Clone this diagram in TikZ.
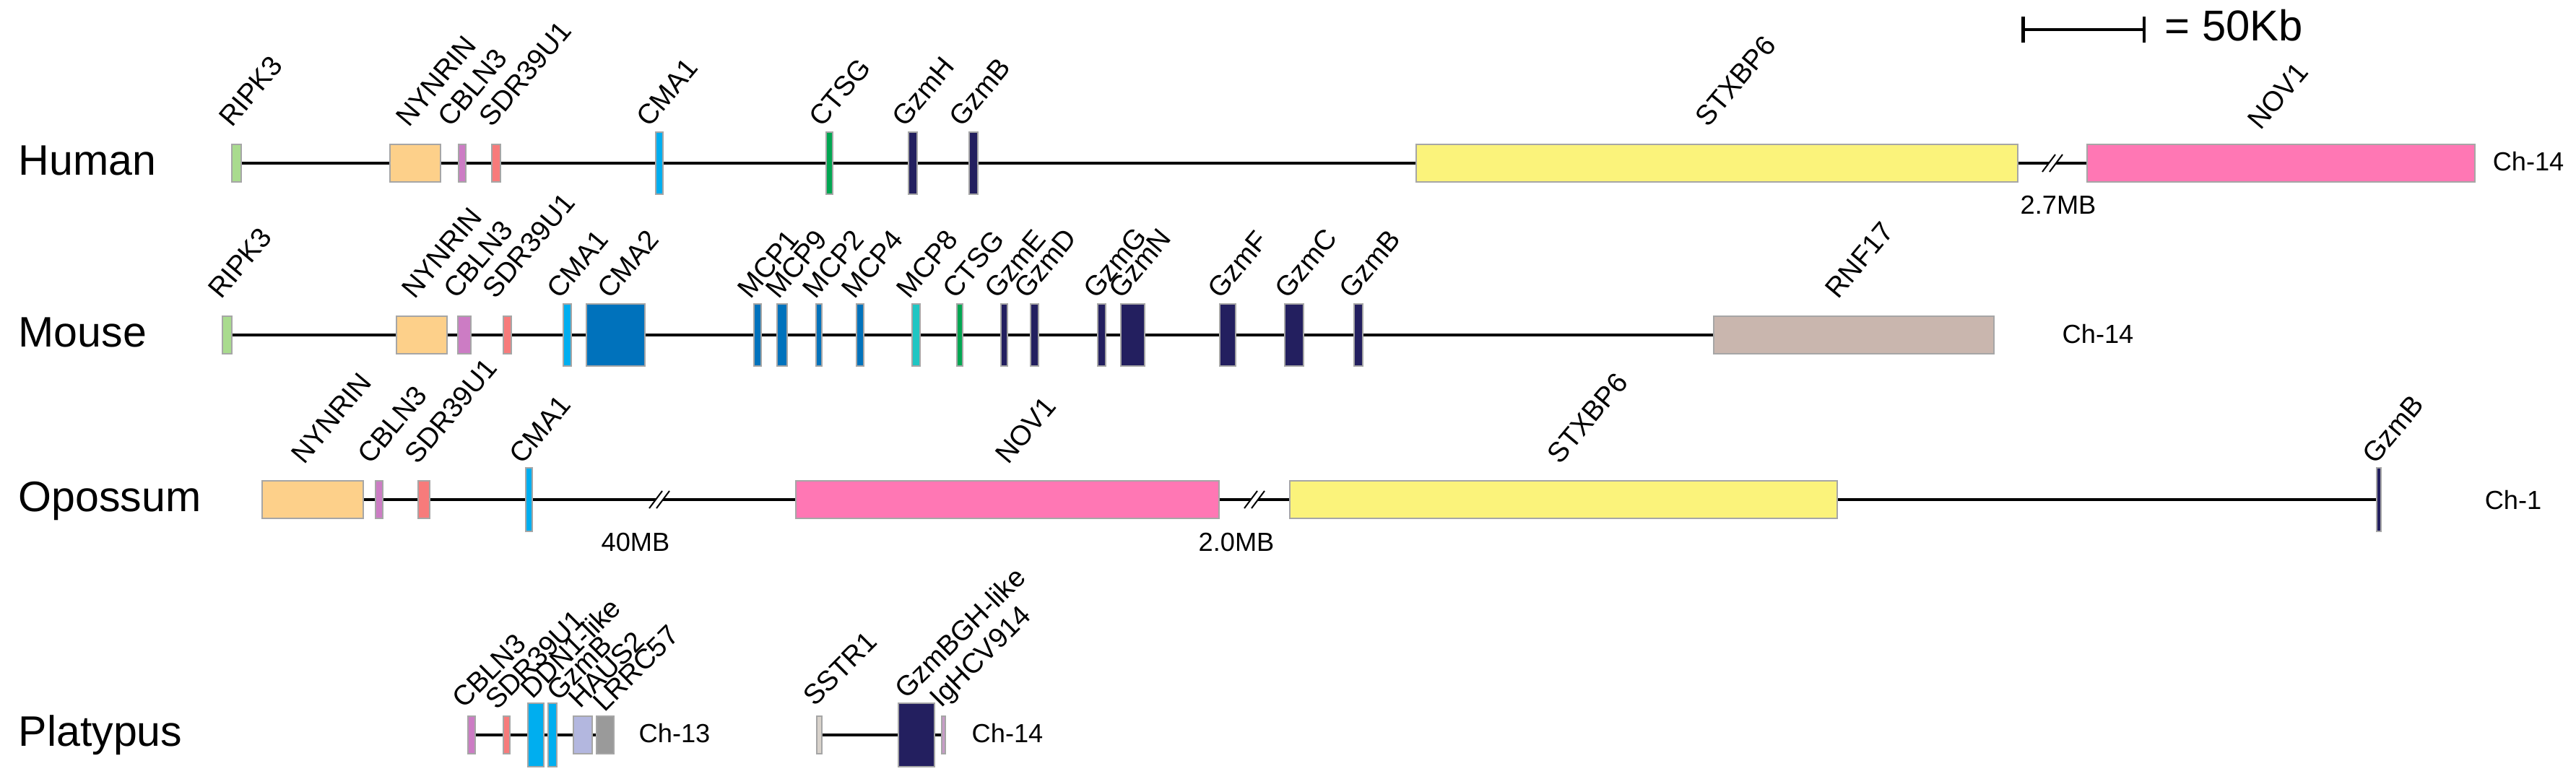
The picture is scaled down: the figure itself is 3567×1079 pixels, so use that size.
\documentclass[tikz,border=0pt]{standalone}
\usepackage{fontspec}
\setmainfont{Liberation Sans}
\usetikzlibrary{arrows.meta,backgrounds}
\definecolor{cGreen}{HTML}{A9DB8E}
\definecolor{cOrange}{HTML}{FDD08A}
\definecolor{cOrchid}{HTML}{CC7CC4}
\definecolor{cSalmon}{HTML}{F77B7B}
\definecolor{cCyan}{HTML}{00AEEF}
\definecolor{cCtsg}{HTML}{00A651}
\definecolor{cNavy}{HTML}{231F5F}
\definecolor{cYellow}{HTML}{FBF37B}
\definecolor{cPink}{HTML}{FF77B4}
\definecolor{cBlue}{HTML}{0072BC}
\definecolor{cTeal}{HTML}{1FC6C3}
\definecolor{cTaupe}{HTML}{C9B6AE}
\definecolor{cLav}{HTML}{B3B7DF}
\definecolor{cGray}{HTML}{9A9A9A}
\definecolor{cBeige}{HTML}{D8D2CB}
\definecolor{cIgh}{HTML}{C79BC7}
\newcommand\gene[6]{\node[feat,fill=#6,minimum width={(#3-#2)*0.01cm},minimum height={2*#5*0.01cm}] (#1) at ({(#2+#3)/2},#4) {};}
\newcommand\glabel[4]{\node[glab] (#1) at (#2,#3) {#4};}
\begin{document}
\begin{tikzpicture}[x=0.01cm,y=-0.01cm,
  feat/.style={draw=black!35,line width=0.35pt,rectangle,inner sep=0pt,outer sep=0pt},
  glab/.style={rotate=50,anchor=base west,inner sep=0pt,font=\fontsize{11}{13}\selectfont},
  sp/.style={anchor=base west,inner sep=0pt,font=\fontsize{16.8}{20}\selectfont},
  chr/.style={anchor=base west,inner sep=0pt,font=\fontsize{10.3}{12}\selectfont},
  gaplab/.style={anchor=base,inner sep=0pt,font=\fontsize{10.3}{12}\selectfont},
  backbone/.style={line width=0.035cm,black},
  brk/.pic={
    \fill[white] (-14,12) -- (-4,12) -- (14,-12) -- (4,-12) -- cycle;
    \draw[line width=0.02cm] (-14,12) -- (4,-12) (-4,12) -- (14,-12);
  }]
\useasboundingbox (0,0) rectangle (3567,1079);

% scale bar
\coordinate (sbL) at (2799,41);
\coordinate (sbR) at (2971,41);
\draw[line width=0.045cm,{Bar[width=0.36cm]}-{Bar[width=0.36cm]}] (sbL) -- (sbR);
\node[sp,font=\fontsize{17}{20}\selectfont] (sbt) at (2997,57) {= 50Kb};

% ---------------- Human ----------------
\node[sp] (hum) at (25,242) {Human};
\gene{h-ripk3}{321}{334}{226}{26}{cGreen}
\gene{h-nynrin}{540}{610}{226}{26}{cOrange}
\gene{h-cbln3}{635}{645}{226}{26}{cOrchid}
\gene{h-sdr}{681}{693}{226}{26}{cSalmon}
\gene{h-cma1}{908}{918}{226}{43}{cCyan}
\gene{h-ctsg}{1144}{1153}{226}{43}{cCtsg}
\gene{h-gzmh}{1258}{1270}{226}{43}{cNavy}
\gene{h-gzmb}{1342}{1354}{226}{43}{cNavy}
\gene{h-stxbp6}{1961}{2794}{226}{26}{cYellow}
\gene{h-nov1}{2890}{3427}{226}{26}{cPink}
\glabel{hl-ripk3}{321}{178}{RIPK3}
\glabel{hl-nynrin}{566}{178}{NYNRIN}
\glabel{hl-cbln3}{624}{178}{CBLN3}
\glabel{hl-sdr}{681}{178}{SDR39U1}
\glabel{hl-cma1}{899}{178}{CMA1}
\glabel{hl-ctsg}{1138}{178}{CTSG}
\glabel{hl-gzmh}{1253}{178}{GzmH}
\glabel{hl-gzmb}{1332}{178}{GzmB}
\glabel{hl-stxbp6}{2365}{178}{STXBP6}
\glabel{hl-nov1}{3130}{182}{NOV1}
\node[chr] (hch) at (3451,237) {Ch-14};
\coordinate (hbrk) at (2842,226);
\node[gaplab] (hgap) at (2850,297) {2.7MB};

% ---------------- Mouse ----------------
\node[sp] (mou) at (25,480) {Mouse};
\gene{m-ripk3}{308}{321}{464}{26}{cGreen}
\gene{m-nynrin}{549}{619}{464}{26}{cOrange}
\gene{m-cbln3}{634}{652}{464}{26}{cOrchid}
\gene{m-sdr}{697}{708}{464}{26}{cSalmon}
\gene{m-cma1}{780}{791}{464}{43}{cCyan}
\gene{m-cma2}{812}{893}{464}{43}{cBlue}
\gene{m-mcp1}{1044}{1054}{464}{43}{cBlue}
\gene{m-mcp9}{1076}{1090}{464}{43}{cBlue}
\gene{m-mcp2}{1130}{1138}{464}{43}{cBlue}
\gene{m-mcp4}{1186}{1196}{464}{43}{cBlue}
\gene{m-mcp8}{1263}{1274}{464}{43}{cTeal}
\gene{m-ctsg}{1325}{1333}{464}{43}{cCtsg}
\gene{m-gzme}{1386}{1395}{464}{43}{cNavy}
\gene{m-gzmd}{1427}{1438}{464}{43}{cNavy}
\gene{m-gzmg}{1520}{1531}{464}{43}{cNavy}
\gene{m-gzmn}{1552}{1585}{464}{43}{cNavy}
\gene{m-gzmf}{1689}{1711}{464}{43}{cNavy}
\gene{m-gzmc}{1779}{1805}{464}{43}{cNavy}
\gene{m-gzmb}{1875}{1887}{464}{43}{cNavy}
\gene{m-rnf17}{2373}{2761}{464}{26}{cTaupe}
\glabel{ml-ripk3}{306}{416}{RIPK3}
\glabel{ml-nynrin}{574}{416}{NYNRIN}
\glabel{ml-cbln3}{632}{416}{CBLN3}
\glabel{ml-sdr}{686}{416}{SDR39U1}
\glabel{ml-cma1}{775}{416}{CMA1}
\glabel{ml-cma2}{845}{416}{CMA2}
\glabel{ml-mcp1}{1039}{416}{MCP1}
\glabel{ml-mcp9}{1078}{416}{MCP9}
\glabel{ml-mcp2}{1129}{416}{MCP2}
\glabel{ml-mcp4}{1183}{416}{MCP4}
\glabel{ml-mcp8}{1259}{416}{MCP8}
\glabel{ml-ctsg}{1323}{416}{CTSG}
\glabel{ml-gzme}{1381}{416}{GzmE}
\glabel{ml-gzmd}{1422}{416}{GzmD}
\glabel{ml-gzmg}{1518}{416}{GzmG}
\glabel{ml-gzmn}{1553}{416}{GzmN}
\glabel{ml-gzmf}{1690}{416}{GzmF}
\glabel{ml-gzmc}{1783}{416}{GzmC}
\glabel{ml-gzmb}{1872}{416}{GzmB}
\glabel{ml-rnf17}{2545}{416}{RNF17}
\node[chr] (mch) at (2855,475) {Ch-14};

% ---------------- Opossum ----------------
\node[sp] (opo) at (25,708) {Opossum};
\gene{o-nynrin}{363}{503}{692}{26}{cOrange}
\gene{o-cbln3}{520}{530}{692}{26}{cOrchid}
\gene{o-sdr}{579}{595}{692}{26}{cSalmon}
\gene{o-cma1}{728}{737}{692}{44}{cCyan}
\gene{o-nov1}{1102}{1688}{692}{26}{cPink}
\gene{o-stxbp6}{1786}{2544}{692}{26}{cYellow}
\gene{o-gzmb}{3291}{3297}{692}{44}{cNavy}
\glabel{ol-nynrin}{421}{645}{NYNRIN}
\glabel{ol-cbln3}{513}{645}{CBLN3}
\glabel{ol-sdr}{578}{645}{SDR39U1}
\glabel{ol-cma1}{723}{645}{CMA1}
\glabel{ol-nov1}{1396}{645}{NOV1}
\glabel{ol-stxbp6}{2160}{645}{STXBP6}
\glabel{ol-gzmb}{3289}{645}{GzmB}
\node[chr] (och) at (3440,705) {Ch-1};
\coordinate (obrk1) at (913,692);
\coordinate (obrk2) at (1737,692);
\node[gaplab] (ogap1) at (880,763) {40MB};
\node[gaplab] (ogap2) at (1712,763) {2.0MB};

% ---------------- Platypus ----------------
\node[sp] (pla) at (25,1033) {Platypus};
\gene{p-cbln3}{648}{658}{1018}{26}{cOrchid}
\gene{p-sdr}{697}{706}{1018}{26}{cSalmon}
\gene{p-ddn1}{731}{753}{1018}{44}{cCyan}
\gene{p-gzmb}{759}{771}{1018}{44}{cCyan}
\gene{p-haus2}{794}{820}{1018}{26}{cLav}
\gene{p-lrrc57}{826}{850}{1018}{26}{cGray}
\gene{p-sstr1}{1131}{1138}{1018}{26}{cBeige}
\gene{p-gzmbgh}{1244}{1294}{1018}{44}{cNavy}
\gene{p-ighcv}{1304}{1309}{1018}{26}{cIgh}
\begin{scope}[glab/.append style={rotate=-5}]
\glabel{pl-cbln3}{642}{983}{CBLN3}
\glabel{pl-sdr}{688}{985}{SDR39U1}
\glabel{pl-ddn1}{737}{970}{DDN1-like}
\glabel{pl-gzmb}{773}{973}{GzmB}
\glabel{pl-haus2}{803}{983}{HAUS2}
\glabel{pl-lrrc57}{837}{988}{LRRC57}
\glabel{pl-sstr1}{1128}{980}{SSTR1}
\glabel{pl-gzmbgh}{1255}{970}{GzmBGH-like}
\glabel{pl-ighcv}{1303}{982}{IgHCV914}
\end{scope}
\node[chr] (pch13) at (884,1028) {Ch-13};
\node[chr] (pch14) at (1345,1028) {Ch-14};

% backbones
\begin{scope}[on background layer]
\draw[backbone] (h-ripk3.center) -- (h-nov1.center);
\draw[backbone] (m-ripk3.center) -- (m-rnf17.center);
\draw[backbone] (o-nynrin.center) -- (o-gzmb.center);
\draw[backbone] (p-cbln3.center) -- (p-lrrc57.center);
\draw[backbone] (p-sstr1.center) -- (p-ighcv.center);
\end{scope}
\pic at (hbrk) {brk};
\pic at (obrk1) {brk};
\pic at (obrk2) {brk};
\end{tikzpicture}
\end{document}
